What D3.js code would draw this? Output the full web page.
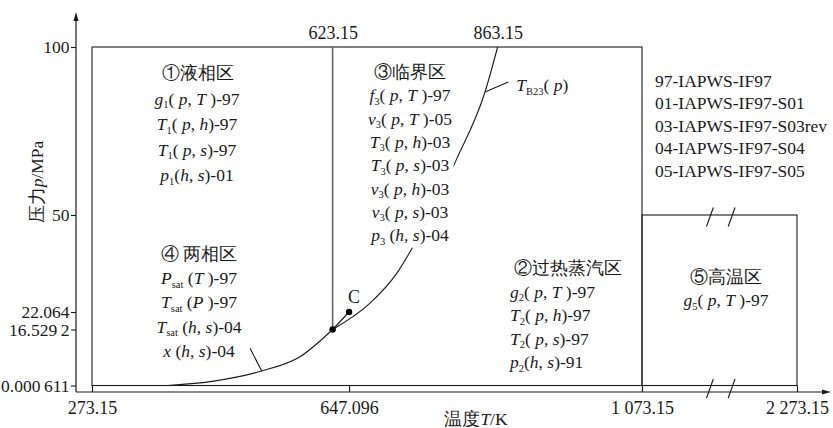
<!DOCTYPE html>
<html>
<head>
<meta charset="utf-8">
<script src="https://cdn.jsdelivr.net/npm/d3@7"></script>
<style>
  body { margin: 0; background: #fff; }
  svg { display: block; }
</style>
</head>
<body>
<div id="chart"></div>
<script>
// ticks
const xTicks = [273.15, 647.096, 1073.15, 2273.15];
const xTickLabels = ['273.15', '647.096', '1 073.15', '2 273.15'];
const xTopTicks = [623.15, 863.15];
const xTopLabels = ['623.15', '863.15'];
const yTicks = [0.000611, 16.5292, 22.064, 50, 100];
const yTickLabels = ['0.000\u2009611', '16.529\u20092', '22.064', '50', '100'];

// curves, [T (K), p (MPa)]
const satCurve = [[383.7, 0.000611], [450, 1.3], [520, 4.28], [575.7, 8.5], [623.15, 16.5292]];
const b23Curve = [[623.15, 16.5292], [677.5, 24.6], [716.4, 33.2], [738.2, 40.2], [803.6, 66.7], [844.8, 86.6], [863.15, 100]];
const boundaryPoint = [623.15, 16.5292];
const criticalPoint = [647.096, 22.064];
const xhsLeader = [[503, 10.98], [520, 4.28]];
const b23Leader = [[844.8, 86.6], [878.7, 89.6]];
const breakT = [1599, 1767];

// region texts (*x* italic, ~x~ subscript)
const region1 = ['①液相区', '*g*~1~( *p*, *T* )-97', '*T*~1~( *p*, *h*)-97', '*T*~1~( *p*, *s*)-97', '*p*~1~(*h*, *s*)-01'];
const region3 = ['③临界区', '*f*~3~( *p*, *T* )-97', '*v*~3~( *p*, *T* )-05', '*T*~3~( *p*, *h*)-03', '*T*~3~( *p*, *s*)-03',
  '*v*~3~( *p*, *h*)-03', '*v*~3~( *p*, *s*)-03', '*p*~3~ (*h*, *s*)-04'];
const region4 = ['④ 两相区', '*P*~sat~ (*T* )-97', '*T*~sat~ (*P* )-97', '*T*~sat~ (*h*, *s*)-04', '*x* (*h*, *s*)-04'];
const region2 = ['②过热蒸汽区', '*g*~2~( *p*, *T* )-97', '*T*~2~( *p*, *h*)-97', '*T*~2~( *p*, *s*)-97', '*p*~2~(*h*, *s*)-91'];
const region5 = ['⑤高温区', '*g*~5~( *p*, *T* )-97'];
const legendLines = ['97-IAPWS-IF97', '01-IAPWS-IF97-S01', '03-IAPWS-IF97-S03rev', '04-IAPWS-IF97-S04', '05-IAPWS-IF97-S05'];
const b23Label = '*T*~B23~( *p*)';
const criticalLabel = 'C';

const width = 833, height = 428;
const axisX = 76, axisY = 392;
const ink = '#1a1a1a';
const serif = '"Liberation Serif", "DejaVu Serif", serif';

const svg = d3.select('#chart').append('svg')
  .attr('width', width).attr('height', height)
  .attr('viewBox', `0 0 ${width} ${height}`)
  .attr('font-family', serif);

// schematic (piecewise) scales, like the original
const x = d3.scaleLinear().domain([273.15, 1073.15, 2273.15]).range([92, 642, 797]);
const y = d3.scaleLinear().domain(yTicks).range([385.5, 329.5, 312, 215, 47]);

function label(px, py, size) {
  return svg.append('text').attr('x', px).attr('y', py)
    .attr('font-family', serif).attr('font-size', size).attr('fill', ink);
}

function rich(sel, str) {
  const parts = str.match(/\*[^*]+\*|~[^~]+~|[^*~]+/g);
  let shift = 0;
  parts.forEach(p => {
    const t = sel.append('tspan');
    let dy;
    if (p[0] === '~') {
      t.text(p.slice(1, -1)).attr('font-size', '0.6em');
      dy = 3.5 - shift; shift = 3.5;
    } else {
      dy = -shift; shift = 0;
      if (p[0] === '*') t.text(p.slice(1, -1)).attr('font-style', 'italic');
      else t.text(p);
    }
    if (dy) t.attr('dy', dy);
  });
}

// axes
svg.append('line').attr('x1', axisX).attr('x2', axisX).attr('y1', axisY).attr('y2', 18)
  .attr('stroke', ink).attr('stroke-width', 1.2);
svg.append('path').attr('d', `M${axisX},12 L${axisX - 2.5},21 L${axisX + 2.5},21 Z`).attr('fill', ink);
svg.append('line').attr('x1', axisX).attr('x2', 824).attr('y1', axisY).attr('y2', axisY)
  .attr('stroke', ink).attr('stroke-width', 1.2);
svg.append('path').attr('d', `M831,${axisY} L822,${axisY - 2.5} L822,${axisY + 2.5} Z`).attr('fill', ink);

const yAxis = svg.append('g').attr('transform', `translate(${axisX},0)`)
  .call(d3.axisLeft(y).tickValues(yTicks).tickSize(5).tickPadding(1.5)
    .tickFormat((d, i) => yTickLabels[i]));
const xAxis = svg.append('g').attr('transform', `translate(0,${axisY})`)
  .call(d3.axisBottom(x).tickValues(xTicks).tickSizeInner(-6.5).tickSizeOuter(0).tickPadding(9)
    .tickFormat((d, i) => xTickLabels[i]));
const xTop = svg.append('g').attr('transform', `translate(0,${y(100)})`)
  .call(d3.axisTop(x).tickValues(xTopTicks).tickSize(0).tickPadding(8)
    .tickFormat((d, i) => xTopLabels[i]));
[yAxis, xAxis, xTop].forEach(g => {
  g.attr('font-family', serif).attr('font-size', 18);
  g.select('.domain').remove();
  g.selectAll('line').attr('stroke', ink).attr('stroke-width', 1.1);
  g.selectAll('text').attr('fill', ink);
});
yAxis.attr('font-size', 17.5);

// axis titles
const yTitle = label(0, 0, 17.5)
  .attr('transform', 'translate(43,182) rotate(-90)')
  .attr('text-anchor', 'middle');
rich(yTitle, '压力*p*/MPa');
const xTitle = label(476, 425, 17.5).attr('text-anchor', 'middle');
rich(xTitle, '温度*T*/K');

// region boxes
svg.append('rect')
  .attr('x', x(273.15)).attr('y', y(100))
  .attr('width', x(1073.15) - x(273.15)).attr('height', y(0.000611) - y(100))
  .attr('fill', 'none').attr('stroke', ink).attr('stroke-width', 1.1);
svg.append('rect')
  .attr('x', x(1073.15)).attr('y', y(50))
  .attr('width', x(2273.15) - x(1073.15)).attr('height', y(0.000611) - y(50))
  .attr('fill', 'none').attr('stroke', ink).attr('stroke-width', 1.1);
svg.append('line')
  .attr('x1', x(623.15)).attr('x2', x(623.15)).attr('y1', y(100)).attr('y2', y(16.5292))
  .attr('stroke', '#666').attr('stroke-width', 1.6);

// axis break marks
breakT.forEach(t => {
  [y(50) + 2, y(0.000611) + 3].forEach(cy => {
    svg.append('line')
      .attr('x1', x(t) - 3.4).attr('y1', cy + 9.5)
      .attr('x2', x(t) + 3.4).attr('y2', cy - 9.5)
      .attr('stroke', ink).attr('stroke-width', 1.1);
  });
});

// curves
const line = d3.line().x(d => x(d[0])).y(d => y(d[1])).curve(d3.curveMonotoneX);
svg.append('path').datum(satCurve).attr('d', line)
  .attr('fill', 'none').attr('stroke', ink).attr('stroke-width', 1.1);
svg.append('path').datum(b23Curve).attr('d', line)
  .attr('fill', 'none').attr('stroke', ink).attr('stroke-width', 1.1);

const straight = d3.line().x(d => x(d[0])).y(d => y(d[1]));
[xhsLeader, b23Leader, [boundaryPoint, criticalPoint]].forEach(seg => {
  svg.append('path').attr('d', straight(seg))
    .attr('fill', 'none').attr('stroke', ink).attr('stroke-width', 1.1);
});
[boundaryPoint, criticalPoint].forEach(p => {
  svg.append('circle').attr('cx', x(p[0])).attr('cy', y(p[1])).attr('r', 3.2).attr('fill', '#000');
});
label(x(criticalPoint[0]) + 5, y(criticalPoint[1]) - 9, 18)
  .attr('text-anchor', 'middle')
  .text(criticalLabel);
const b23Text = label(x(b23Leader[1][0]) + 8, y(b23Leader[1][1]) + 9.5, 17.5);
rich(b23Text, b23Label);

// text blocks; a white backing hides the curves behind the lines, as in the original
function block(lines, hx, lx, anchor, y0, step) {
  lines.forEach((s, i) => {
    const py = y0 + i * step;
    const t = label(i === 0 ? hx : lx, py, 17.5)
      .attr('text-anchor', i === 0 ? 'middle' : anchor);
    rich(t, s);
    const b = t.node().getBBox();
    svg.insert('rect', () => t.node())
      .attr('x', b.x - 1).attr('y', py - step * 0.72)
      .attr('width', b.width + 5).attr('height', step)
      .attr('fill', '#fff');
  });
}
block(region1, 198, 197, 'middle', 79, 25.5);
block(region3, 410, 410, 'middle', 78, 23.3);
block(region4, 199, 199, 'middle', 260, 24.2);
block(region2, 568, 510, 'start', 274, 23.6);
block(region5, 726, 726, 'middle', 283, 23);

legendLines.forEach((s, i) => {
  label(655, 86.5 + i * 22.5, 17.5).text(s);
});
</script>
</body>
</html>
